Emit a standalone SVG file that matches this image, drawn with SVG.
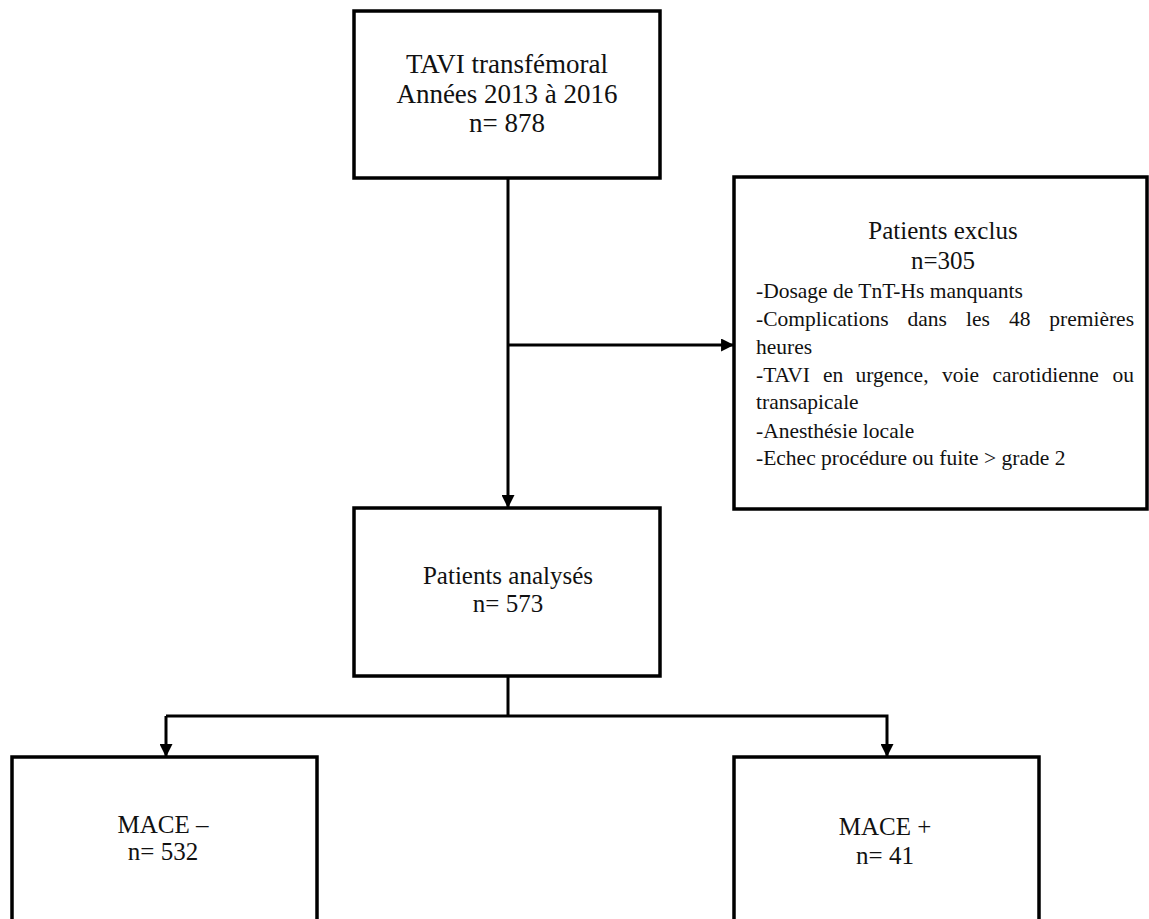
<svg xmlns="http://www.w3.org/2000/svg" width="1149" height="919" viewBox="0 0 1149 919">
<style>
.box{fill:#fff;stroke:#000;stroke-width:3.5}
.ln{fill:none;stroke:#000;stroke-width:3}
text{font-family:"Liberation Serif","Times New Roman",serif;fill:#111}
.t{font-size:25px;text-anchor:middle}
.b{font-size:21.5px}
</style>
<defs>
<marker id="ah" viewBox="0 0 12 12" refX="11" refY="6" markerWidth="13" markerHeight="13" markerUnits="userSpaceOnUse" orient="auto">
<path d="M0,0 L12,6 L0,12 Z" fill="#000"/>
</marker>
</defs>
<rect width="1149" height="919" fill="#fff"/>
<g id="connectors">
<line class="ln" x1="508" y1="178" x2="508" y2="507" marker-end="url(#ah)"/>
<line class="ln" x1="508" y1="345" x2="733" y2="345" marker-end="url(#ah)"/>
<polyline class="ln" points="508,676 508,716"/>
<polyline class="ln" points="166,716 887,716 887,756" marker-end="url(#ah)"/>
<line class="ln" x1="166" y1="716" x2="166" y2="756" marker-end="url(#ah)"/>
</g>
<g id="node-tavi">
<rect class="box" x="354" y="11" width="306" height="167"/>
<text class="t" x="507" y="73" style="font-size:27px">TAVI transfémoral</text>
<text class="t" x="507" y="103" style="font-size:27px">Années 2013 à 2016</text>
<text class="t" x="507" y="132" style="font-size:27px">n= 878</text>
</g>
<g id="node-exclus">
<rect class="box" x="734" y="177" width="413" height="332"/>
<text class="t" x="943" y="239">Patients exclus</text>
<text class="t" x="943" y="269">n=305</text>
<text class="b" x="756" y="298">-Dosage de TnT-Hs manquants</text>
<text class="b" y="326"><tspan x="756">-Complications</tspan><tspan x="907.5">dans</tspan><tspan x="966">les</tspan><tspan x="1009">48</tspan><tspan x="1134" text-anchor="end">premières</tspan></text>
<text class="b" x="756" y="354">heures</text>
<text class="b" y="382"><tspan x="756">-TAVI</tspan><tspan x="823">en</tspan><tspan x="855.5">urgence,</tspan><tspan x="942">voie</tspan><tspan x="992.5">carotidienne</tspan><tspan x="1134" text-anchor="end">ou</tspan></text>
<text class="b" x="756" y="409">transapicale</text>
<text class="b" x="756" y="438">-Anesthésie locale</text>
<text class="b" x="756" y="465">-Echec procédure ou fuite &gt; grade 2</text>
</g>
<g id="node-analyses">
<rect class="box" x="354" y="508" width="306" height="168"/>
<text class="t" x="508" y="584">Patients analysés</text>
<text class="t" x="508" y="612">n= 573</text>
</g>
<g id="node-mace-neg">
<rect class="box" x="12" y="757" width="305" height="180"/>
<text class="t" x="163" y="833">MACE –</text>
<text class="t" x="163" y="860">n= 532</text>
</g>
<g id="node-mace-pos">
<rect class="box" x="734" y="757" width="305" height="180"/>
<text class="t" x="885" y="835">MACE +</text>
<text class="t" x="885" y="864">n= 41</text>
</g>
</svg>
